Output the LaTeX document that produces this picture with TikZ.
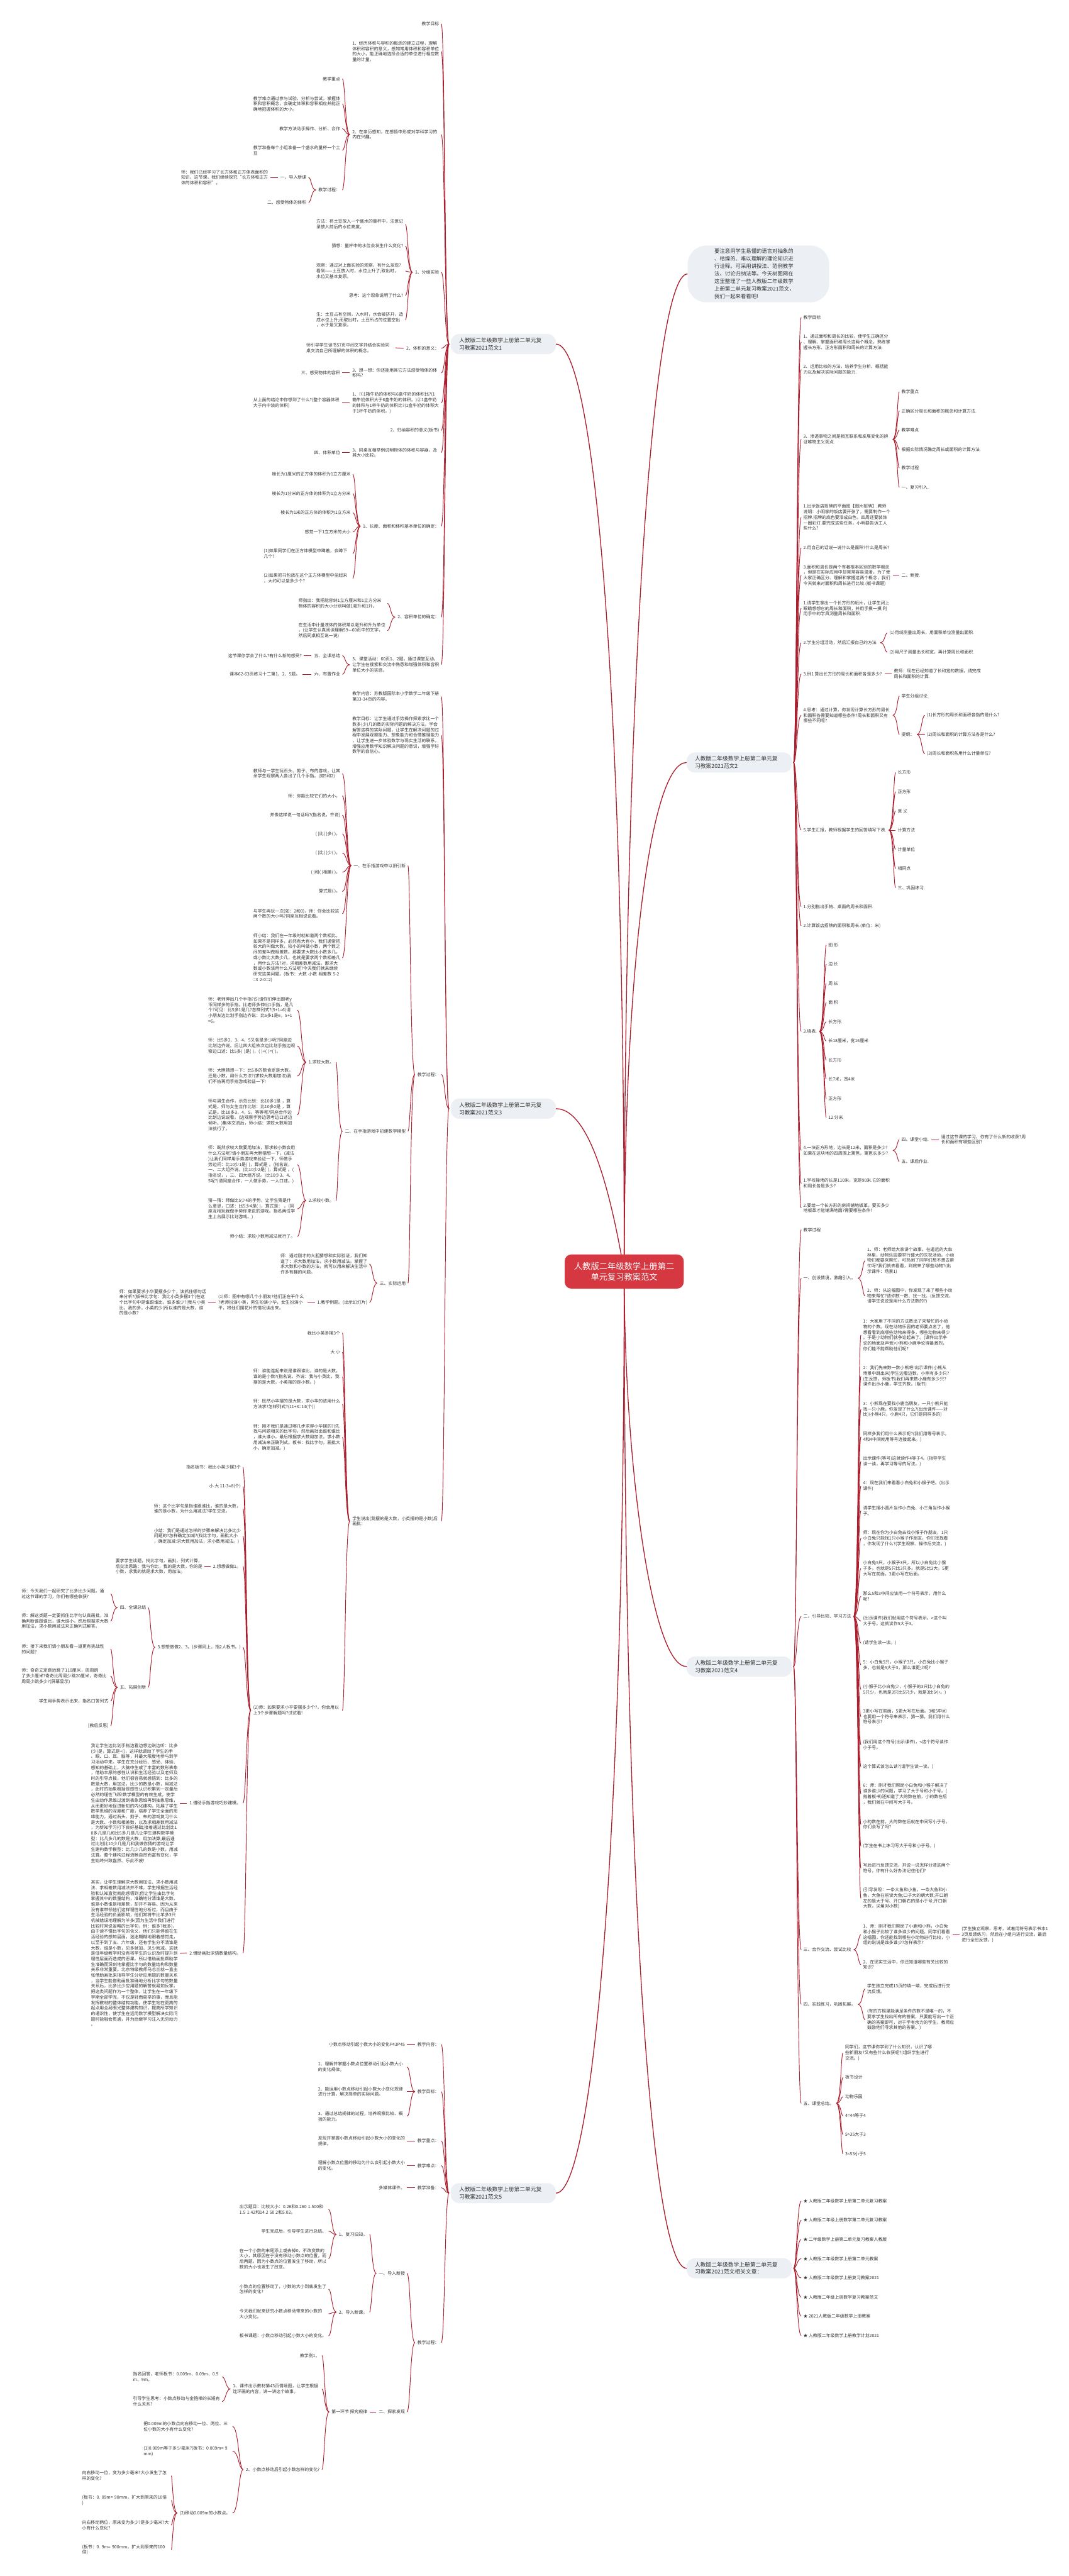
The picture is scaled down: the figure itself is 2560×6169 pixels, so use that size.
\documentclass[tikz,border=0pt]{standalone}
\usepackage{fontspec}
\setmainfont{Noto Sans CJK SC}
\usetikzlibrary{calc}
\definecolor{lc}{RGB}{170,30,45}
\definecolor{rootc}{RGB}{214,56,66}
\definecolor{bf}{RGB}{236,239,243}
\definecolor{tc}{RGB}{51,51,51}
\newcommand\ft{\fontsize{10.4}{13.1}\selectfont}
\newcommand\fbr{\fontsize{13.2}{17.5}\selectfont}
\newcommand\frt{\fontsize{20}{26}\selectfont}
\newcommand\fbb{\fontsize{12.6}{18}\selectfont}
\tikzset{
 t/.style={font=\ft,text=tc,inner sep=0pt,align=left},
 tl/.style={t,anchor=east},
 tlw/.style={tl,text width=208pt},
 tr/.style={t,anchor=west},
 trw/.style={tr,text width=208pt},
 conn/.style={draw=lc,line width=1.4pt},
 mainc/.style={draw=lc,line width=2pt},
 br/.style={fill=bf,rounded corners=20pt,font=\fbr,text=tc,align=left,text width=212pt,inner xsep=20pt,inner ysep=6pt,minimum height=48pt},
}
\newcommand\lk[2]{\draw[conn] let \p1=($(#1.west)+(-6,0)$), \p2=($(#2.east)+(5,0)$) in (\p1) .. controls (\x1-11pt,\y1) and (\x1-11pt,\y2) .. (\p2);}
\newcommand\rk[2]{\draw[conn] let \p1=($(#1.east)+(6,0)$), \p2=($(#2.west)+(-5,0)$) in (\p1) .. controls (\x1+11pt,\y1) and (\x1+11pt,\y2) .. (\p2);}
\newcommand\lkb[2]{\draw[conn] let \p1=($(#1.west)+(-4,0)$), \p2=($(#2.east)+(5,0)$) in (\p1) .. controls (\x1-10pt,\y1) and (\x1-10pt,\y2) .. (\p2);}
\newcommand\rkb[2]{\draw[conn] let \p1=($(#1.east)+(4,0)$), \p2=($(#2.west)+(-5,0)$) in (\p1) .. controls (\x1+8pt,\y1) and (\x1+8pt,\y2) .. (\p2);}
\begin{document}
\begin{tikzpicture}[x=1pt,y=-1pt]
\fill[white] (0,0) rectangle (2560,6169);
\useasboundingbox (0,0) rectangle (2560,6169);
\coordinate (rc) at (1495,3045);

% ===== branch nodes =====
\node[br] (b1) at (1205.5,824) {人教版二年级数学上册第二单元复\\习教案2021范文1};
\node[br] (b3) at (1205.5,2655) {人教版二年级数学上册第二单元复\\习教案2021范文3};
\node[br] (b5) at (1205.5,5252) {人教版二年级数学上册第二单元复\\习教案2021范文5};
\node[br] (b2) at (1770.5,1826) {人教版二年级数学上册第二单元复\\习教案2021范文2};
\node[br] (b4) at (1770.5,3991) {人教版二年级数学上册第二单元复\\习教案2021范文4};
\node[br] (b6) at (1770.5,5432) {人教版二年级数学上册第二单元复\\习教案2021范文相关文章：};
\node[fill=bf,rounded corners=45pt,minimum width=339pt,minimum height=136pt,inner sep=0pt] (bub) at (1816.5,656) {};
\node[font=\fbb,text=tc,align=left,anchor=west,inner sep=0pt] (bubt) at (1711,656) {要注意用学生易懂的语言对抽象的\\、枯燥的、难以理解的理论知识进\\行诠释。可采用讲授法、范例教学\\法、讨论归纳法等。今天树图网在\\这里整理了一些人教版二年级数学\\上册第二单元复习教案2021范文，\\我们一起来看看吧!};

% main curves
\draw[mainc] (b1.east) .. controls (1420,824) and (1495,1600) .. (rc);
\draw[mainc] (b3.east) .. controls (1420,2655) and (1470,2900) .. (rc);
\draw[mainc] (b5.east) .. controls (1420,5252) and (1495,4400) .. (rc);
\draw[mainc] (bub.west) .. controls (1560,656) and (1495,1700) .. (rc);
\draw[mainc] (b2.west) .. controls (1560,1826) and (1495,2300) .. (rc);
\draw[mainc] (b4.west) .. controls (1560,3991) and (1495,3500) .. (rc);
\draw[mainc] (b6.west) .. controls (1560,5432) and (1495,4500) .. (rc);

% ===== 范文1 =====
\node[tl] (n1) at (1052,57) {教学目标};
\node[tlw] (n2) at (1052,123) {1、经历体积与容积的概念的建立过程，理解\\体积和容积的意义，感知常用体积和容积单位\\的大小，能正确地选择合适的单位进行相应数\\量的计量。};
\node[tlw] (n3) at (1052,322) {2、在亲历感知，在感悟中形成对学科学习的\\内在兴趣。};
\node[tl] (n3a) at (815,189) {教学重点};
\node[tlw] (n3b) at (815,249) {教学难点通过参与试验、分析与尝试，掌握体\\积和容积概念，会确定体积和容积相应并能正\\确地把握体积的大小。};
\node[tl] (n3c) at (815,308) {教学方法动手操作、分析、合作};
\node[tlw] (n3d) at (815,360) {教学准备每个小组准备一个盛水的量杯一个土\\豆};
\node[tl] (n3e) at (815,455) {教学过程：};
\node[tl] (n3e1) at (734,425) {一、导入新课};
\node[tlw] (n3e1a) at (642,425) {师：我们已经学习了长方体和正方体表面积的\\知识，这节课，我们继续探究“长方体和正方\\体的体积和容积”。};
\node[tl] (n3e2) at (734,485) {二、感受物体的体积};
\node[tl] (n4) at (1052,652) {1、分组实验};
\node[tlw] (n4a) at (966,537) {方法：将土豆放入一个盛水的量杯中，注意记\\录放入前后的水位高度。};
\node[tl] (n4b) at (966,589) {猜想：量杯中的水位会发生什么变化?};
\node[tlw] (n4c) at (966,649) {观察：通过对上面实验的观察，有什么发现?\\看到——土豆放入时，水位上升了;取出时，\\水位又基本复原。};
\node[tl] (n4d) at (966,708) {思考：这个现象说明了什么?};
\node[tlw] (n4e) at (966,766) {生：土豆占有空间，入水时，水会被挤开，造\\成水位上升;而取出时，土豆所占的位置空出\\，水于是又复原。};
\node[tl] (n5) at (1052,834) {2、体积的意义：};
\node[tlw] (n5a) at (942,833) {师引导学生读书57页中间文字并结合实验同\\桌交流自己所理解的体积的概念。};
\node[tlw] (n6) at (1052,893) {3、想一想：你还能用其它方法感受物体的体\\积吗?};
\node[tl] (n6a) at (815,893) {三、感受物体的容积};
\node[tlw] (n7) at (1052,965) {1、①1箱牛奶的体积与6盒牛奶的体积比?(1\\箱牛奶体积大于6盒牛奶的体积。)②1盒牛奶\\的体积与1杯牛奶的体积比?(1盒牛奶的体积大\\于1杯牛奶的体积。)};
\node[tlw] (n7a) at (815,965) {从上面的结论中你想到了什么?(整个容器体积\\大于内中装的体积)};
\node[tl] (n8) at (1052,1031) {2、归纳容积的意义(板书)};
\node[tlw] (n9) at (1052,1084) {3、同桌互相举例说明物体的体积与容器，及\\其大小比较。};
\node[tl] (n9a) at (815,1084) {四、体积单位};
\node[tl] (n10) at (1052,1260) {1、长度、面积和体积基本单位的确定：};
\node[tl] (n10a) at (840,1136) {棱长为1厘米的正方体的体积为1立方厘米};
\node[tl] (n10b) at (840,1182) {棱长为1分米的正方体的体积为1立方分米};
\node[tl] (n10c) at (840,1228) {棱长为1米的正方体的体积为1立方米};
\node[tl] (n10d) at (840,1274) {感觉一下1立方米的大小};
\node[tlw] (n10e) at (840,1326) {(1)如果同学们在正方体模型中蹲着，会蹲下\\几个?};
\node[tlw] (n10f) at (840,1385) {(2)如果把书包放在这个正方体模型中垒起来\\，大约可以垒多少个?};
\node[tl] (n11) at (1052,1478) {2、容积单位的确定：};
\node[tlw] (n11a) at (923,1445) {师指出：我把能容纳1立方厘米和1立方分米\\物体的容积的大小分别叫做1毫升和1升。};
\node[tlw] (n11b) at (923,1510) {在生活中计量液体的体积常以毫升和升为单位\\，(让学生认真阅读理解59—60页中的文字，\\然后同桌相互说一说)};
\node[tlw] (n12) at (1052,1592) {3、课堂活动：60页1、2题。通过课堂互动，\\让学生在搜索和交流中熟悉和增强体积和容积\\单位大小的实感。};
\node[tl] (n12a) at (815,1570) {五、全课总结};
\node[tl] (n12a1) at (723,1570) {这节课你学会了什么?有什么新的感受?};
\node[tl] (n12b) at (815,1615) {六、布置作业};
\node[tl] (n12b1) at (719,1615) {课本62-63页练习十二第1、2、5题。};

\foreach \c in {n1,n2,n3,n4,n5,n6,n7,n8,n9,n10,n11,n12} {\lkb{b1}{\c}}
\foreach \c in {n3a,n3b,n3c,n3d,n3e} {\lk{n3}{\c}}
\lk{n3e}{n3e1} \lk{n3e}{n3e2} \lk{n3e1}{n3e1a}
\foreach \c in {n4a,n4b,n4c,n4d,n4e} {\lk{n4}{\c}}
\lk{n5}{n5a} \lk{n6}{n6a} \lk{n7}{n7a} \lk{n9}{n9a}
\foreach \c in {n10a,n10b,n10c,n10d,n10e,n10f} {\lk{n10}{\c}}
\lk{n11}{n11a} \lk{n11}{n11b}
\lk{n12}{n12a} \lk{n12}{n12b} \lk{n12a}{n12a1} \lk{n12b}{n12b1}

% ===== 范文3 =====
\node[tlw] (m1) at (1052,1668) {教学内容：苏教版国际本小学数学二年级下册\\第33-34页的内容。};
\node[tlw] (m2) at (1052,1761) {教学目标：让学生通过手势操作探索求比一个\\数多(少)几的数的实际问题的解决方法，学会\\解答这样的实际问题，让学生在解决问题的过\\程中发展观察能力、想象能力和合情推理能力\\，让学生进一步体验数学与现实生活的联系，\\增强应用数学知识解决问题的意识，增强学好\\数学的自信心。};
\node[tl] (m3) at (1052,2573) {教学过程：};
\node[tl] (m3a) at (972,2073) {一、在手指游戏中以旧引新};
\node[tlw] (m3a1) at (815,1853) {教师与一学生玩石头、剪子、布的游戏，让其\\余学生观察两人各出了几个手指。(如5和2)};
\node[tl] (m3a2) at (815,1906) {师：你能比较它们的大小，};
\node[tl] (m3a3) at (815,1952) {并像这样说一句话吗?(指名说，齐说)};
\node[tl] (m3a4) at (815,1997) {( )比( )多( )，};
\node[tl] (m3a5) at (815,2043) {( )比( )少( )，};
\node[tl] (m3a6) at (815,2089) {( )和( )相差( )，};
\node[tl] (m3a7) at (815,2135) {算式是( )。};
\node[tlw] (m3a8) at (815,2188) {与学生再玩一次(如：2和0)，师：你会比较这\\两个数的大小吗?同座互相说说看。};
\node[tlw] (m3a9) at (815,2294) {师小结：我们在一年级时就知道两个数相比，\\如果不是同样多，必然有大有小，我们通常把\\较大的叫做大数，较小的叫做小数，两个数之\\间的差叫做相差数。那要求大数比小数多几，\\或小数比大数少几，也就是要求两个数相差几\\，用什么方法?对，求相差数用减法。那求大\\数或小数该用什么方法呢?今天我们就来继续\\研究这类问题。(板书：大数~小数~相差数~5-2\\=3~2-0=2)};
\node[tl] (m3b) at (972,2709) {二、在手指游戏中初建数学模型};
\node[tl] (m3b1) at (800,2544) {1.求较大数。};
\node[tlw] (m3b1a) at (707,2419) {师：老师伸出几个手指?(5)请你们伸出跟老y\\币同样多的手指。比老师多伸出1手指，是几\\个?可见：比5多1是几?怎样列式?(5+1=6)请\\小朋友边比划手指边齐说：比5多1是6，5+1\\=6。};
\node[tlw] (m3b1b) at (707,2505) {师：比5多2、3、4、5又各是多少呢?同座边\\比划边齐说。后让四大组依次边比划手指边观\\察边口述：比5多(~)是(~)，(~)+(~)=(~)。};
\node[tlw] (m3b1c) at (707,2577) {师：大胆猜想一下：比5多的数肯定是大数，\\还是小数，用什么方法?(求较大数用加法)我\\们不妨再用手指游戏验证一下!};
\node[tlw] (m3b1d) at (707,2670) {师与男生合作，示范比划：比10多1是~，算\\式是。师与女生合作比划：比10多2是~，算\\式是。比10多3，4，5，等等呢?同座合作边\\比划边说说看。(边观察手势边思考边口述边\\倾听。)集体交流后，师小结：求较大数用加\\法就行了。};
\node[tl] (m3b2) at (800,2875) {2.求较小数。};
\node[tlw] (m3b2a) at (707,2789) {师：既然求较大数要用加法，那求较小数会用\\什么方法呢?请小朋友再大胆猜想一下。(减法\\)让我们同样用手势游戏来验证一下，师做手\\势边问：比10少1是(~)，算式是~。(指名说，\\一、二大组齐说。)比10少2是(~)，算式是~。(\\指名说，，三、四大组齐说。)比10少3、4、\\5呢?(请同座合作，一人做手势，一人口述。)};
\node[tlw] (m3b2b) at (707,2895) {猜一猜：师做比5少4的手势，让学生猜是什\\么意思，口述：比5少4是(~)，算式是：~。(同\\座互相玩我做手势你来说的游戏。指名两位学\\生上台展示比划游戏。)};
\node[tl] (m3b2c) at (707,2961) {师小结：求较小数用减法就行了。};
\node[tl] (m3c) at (972,3073) {三、实际运用};
\node[tlw] (m3c1) at (880,3027) {师：通过刚才的大胆猜想和实际验证，我们知\\道了：求大数用加法，求小数用减法。掌握了\\求大数和小数的方法，就可以用来解决生活中\\许多有趣的问题。};
\node[tl] (m3c2) at (880,3119) {1.教学例题。(出示幻灯片)};
\node[tlw] (m3c2a) at (731,3119) {(1)师：图中有哪几个小朋友?他们正在干什么\\?老师扮演小英，男生扮演小华，女生扮演小\\平，将他们摆花片的情况读出来。};
\node[tlw] (m3c2a1) at (494,3119) {师：如果要求小华要摆多少个，该抓住哪句话\\来分析?(板书比字句：我比小英多摆3个)在这\\个比字句中是谁跟谁比，谁多谁少?(我与小英\\比，我的多，小英的少)所以谁的是大数，谁\\的是小数?};
\node[tlw] (m4) at (1052,3643) {学生说出(我摆的是大数，小英摆的是小数)后\\画批：};
\node[tl] (m4a) at (815,3192) {我比小英多摆3个};
\node[tl] (m4b) at (815,3238) {大 小};
\node[tlw] (m4c) at (815,3297) {师：谁能连起来说是谁跟谁比，谁的是大数，\\谁的是小数?(指名说，齐说：我与小英比，我\\摆的是大数，小英摆的是小数。)};
\node[tlw] (m4d) at (815,3363) {师：既然小华摆的是大数，求小华的该用什么\\方法求?怎样列式?(11+3=14(个))};
\node[tlw] (m4e) at (815,3442) {师：刚才我们是通过哪几步求得小华摆的?(先\\找与问题相关的比字句，然后画批出谁和谁比\\，谁大谁小，最后根据求大数用加法，求小数\\用减法来正确列式。板书：找比字句，画批大\\小，确定加减。)};
\node[tlw] (m4f) at (815,4096) {(2)师：如果要求小平要摆多少个?，你会用以\\上3个步骤解题吗?试试看!};
\node[tl] (m4f1) at (577,3514) {指名板书：我比小英少摆3个};
\node[tl] (m4f2) at (577,3560) {小 大 11-3=8(个)};
\node[tlw] (m4f3) at (577,3613) {师：这个比字句是指谁跟谁比，谁的是大数，\\谁的是小数，为什么用减法?学生交流。};
\node[tlw] (m4f4) at (577,3679) {小结：我们是通过怎样的步骤来解决比多比少\\问题的?怎样确定加减?(找比字句，画批大小\\，确定加减:求大数用加法，求小数用减法。)};
\node[tl] (m4f5) at (577,3751) {2.想想做做1。};
\node[tlw] (m4f5a) at (485,3751) {要求学生读题，找比字句，画批，列式计算，\\后交流思路：我与你比，我的是大数，你的是\\小数，求我的就是求大数，用加法。};
\node[tl] (m4f6) at (577,3945) {3.想想做做2、3。(步骤同上，指2人板书。)};
\node[tl] (m4f6a) at (350,3850) {四、全课总结};
\node[tlw] (m4f6a1) at (260,3817) {师：今天我们一起研究了比多比少问题。通\\过这节课的学习，你们有哪些收获?};
\node[tlw] (m4f6a2) at (260,3882) {师：解这类题一定要抓住比字句认真画批，准\\确判断谁跟谁比，谁大谁小，然后根据求大数\\用加法，求小数用减法来正确列式解答。};
\node[tl] (m4f6b) at (350,4041) {五、拓展创新};
\node[tlw] (m4f6b1) at (260,3949) {师：接下来我们请小朋友看一道更有挑战性\\的问题?};
\node[tlw] (m4f6b2) at (260,4014) {师：奇奇立定跳远跳了110厘米，周周跳\\了多少厘米?奇奇比周周少跳20厘米，奇奇比\\周周少跳多少?(屏幕显示)};
\node[tl] (m4f6b3) at (260,4074) {学生用手势表示出来，指名口答列式};
\node[tl] (m4f6b4) at (260,4133) {[教后反思]};
\node[tl] (m4f7) at (577,4318) {1.借助手指游戏巧妙建模。};
\node[tlw] (m4f7a) at (426,4318) {我让学生边比划手指边看边想边说边听：比多\\(少)是，算式是+()，这样就调动了学生的手\\、眼、口、耳、脑等，并最大限度地参与到学\\习活动中来。学生在充分经历、感受、体验、\\感知的基础上，大脑中生成了丰富的数形表象\\，借助丰厚的感性认识和生活经验以及老师及\\时的引导点拨，他们很容易就感悟到：比多的\\数是大数，用加法，比少的数是小数，用减法\\，此时的抽象概括是感性认识积累到一定量后\\必然的理性飞跃!数学模型的有效生成，使学\\生由动作思维过渡到表象思维再到抽象思维，\\从而更好地促进新知的内化建构，拓展了学生\\数学思维的深度和广度，培养了学生全面的思\\维能力。通过石头、剪子、布的游戏复习什么\\是大数、小数和相差数，以及求相差数用减法\\，为新知学习打下良好基础;接着通过比划比1\\0多几是几和比5多几是几让学生建构数学模\\型：比几多几的数是大数，用加法算;最后通\\过比划比10少几是几和我做你猜的游戏让学\\生建构数学模型：比几少几的数是小数，用减\\法算。整个建构过程流畅自然而富有变化，学\\生始终兴致盎然、乐此不疲!};
\node[tl] (m4f8) at (577,4677) {2.借助画批深悟数量结构。};
\node[tlw] (m4f8a) at (426,4678) {其实，让学生理解求大数用加法、求小数用减\\法、求相差数用减法并不难，学生根据生活经\\验和认知直觉就能感悟到;但让学生由比字句\\掌握其中的数量结构，准确地分清谁是大数、\\谁是小数谁是相差数，却并不容易。因为从来\\没有谁带领他们这样理性地分析过，而且由于\\生活经验的负面影响，他们常将牛比羊多3只\\机械错误地理解为羊多(因为生活中我们进行\\比较时常说省略的比字句，例：谁多?我多)，\\由于读不懂比字句的含义，他们只能停留在生\\活经验的感知层面，迷迷糊糊地跟着感觉走，\\以至于到了五、六年级，还有学生分不清谁是\\大数，谁是小数，见多就加，见少就减。这就\\是低年级教学时没有将学生的认识及时提升到\\理性层面而造成的恶果。所以借助画批帮助学\\生准确而深刻地掌握比字句的数量结构和数量\\关系非常重要。北京特级教师马芯兰就一直主\\张借助画批来指导学生分析应用题的数量关系\\，当学生能借助画批准确地分析比字句的数量\\关系后，比多比少应用题的解答就易如反掌。\\把这类问题作为一个整体，让学生在一年级下\\学期全部学完，不仅是轻而易举的事，而且能\\发挥教材的整体结构功能，使学生站在更高的\\起点用全局眼光整体建构知识，提高所学知识\\的通识性，使学生在运用数学模型解决实际问\\题时能融会贯通，并为后继学习注入无穷动力\\。};

\foreach \c in {m1,m2,m3,m4} {\lkb{b3}{\c}}
\lk{m3}{m3a} \lk{m3}{m3b} \lk{m3}{m3c}
\foreach \c in {m3a1,m3a2,m3a3,m3a4,m3a5,m3a6,m3a7,m3a8,m3a9} {\lk{m3a}{\c}}
\lk{m3b}{m3b1} \lk{m3b}{m3b2}
\foreach \c in {m3b1a,m3b1b,m3b1c,m3b1d} {\lk{m3b1}{\c}}
\foreach \c in {m3b2a,m3b2b,m3b2c} {\lk{m3b2}{\c}}
\lk{m3c}{m3c1} \lk{m3c}{m3c2} \lk{m3c2}{m3c2a} \lk{m3c2a}{m3c2a1}
\foreach \c in {m4a,m4b,m4c,m4d,m4e,m4f} {\lk{m4}{\c}}
\foreach \c in {m4f1,m4f2,m4f3,m4f4,m4f5,m4f6,m4f7,m4f8} {\lk{m4f}{\c}}
\lk{m4f5}{m4f5a} \lk{m4f6}{m4f6a} \lk{m4f6}{m4f6b}
\lk{m4f6a}{m4f6a1} \lk{m4f6a}{m4f6a2}
\foreach \c in {m4f6b1,m4f6b2,m4f6b3,m4f6b4} {\lk{m4f6b}{\c}}
\lk{m4f7}{m4f7a} \lk{m4f8}{m4f8a}

% ===== 范文5 =====
\node[tl] (p1) at (1052,4896) {教学内容：};
\node[tl] (p1a) at (970,4896) {小数点移动引起小数大小的变化P43P45};
\node[tl] (p2) at (1052,5009) {教学目标：};
\node[tlw] (p2a) at (970,4950) {1、理解并掌握小数点位置移动引起小数大小\\的变化规律。};
\node[tlw] (p2b) at (970,5009) {2、能运用小数点移动引起小数大小变化规律\\进行计算，解决简单的实际问题。};
\node[tlw] (p2c) at (970,5068) {3、通过总结规律的过程，培养观察比较、概\\括的能力。};
\node[tl] (p3) at (1052,5127) {教学重点：};
\node[tlw] (p3a) at (970,5127) {发现并掌握小数点移动引起小数大小的变化的\\规律。};
\node[tl] (p4) at (1052,5186) {教学难点：};
\node[tlw] (p4a) at (970,5186) {理解小数点位置的移动为什么会引起小数大小\\的变化。};
\node[tl] (p5) at (1052,5239) {教学准备：};
\node[tl] (p5a) at (970,5239) {多媒体课件。};
\node[tl] (p6) at (1052,5610) {教学过程：};
\node[tl] (p6a) at (970,5444) {一、导入新授};
\node[tl] (p6a1) at (880,5351) {1、复习旧知。};
\node[tlw] (p6a1a) at (782,5291) {出示题目：比较大小：0.26和0.260~1.500和\\1.5~1.42和14.2~50.2和5.02。};
\node[tl] (p6a1b) at (782,5343) {学生完成后，引导学生进行总结。};
\node[tlw] (p6a1c) at (782,5409) {在一个小数的末尾添上或去掉0，不改变数的\\大小，其原因在于没有移动小数点的位置，而\\后两题，因为小数点的位置发生了移动，所以\\数的大小也发生了改变。};
\node[tl] (p6a2) at (880,5537) {2、导入新课。};
\node[tlw] (p6a2a) at (782,5482) {小数点的位置移动了，小数的大小到底发生了\\怎样的变化?};
\node[tlw] (p6a2b) at (782,5541) {今天我们就来研究小数点移动带来的小数的\\大小变化。};
\node[tl] (p6a2c) at (782,5594) {板书课题：小数点移动引起小数大小的变化。};
\node[tl] (p6b) at (970,5776) {二、探索发现};
\node[tl] (p6b1) at (880,5776) {第一环节 探究规律};
\node[tl] (p6b1a) at (766,5641) {教学例1。};
\node[tlw] (p6b1b) at (766,5721) {1、课件出示教材第43页情境图，让学生根据\\连环画的内容，讲一讲这个故事。};
\node[tlw] (p6b1b1) at (527,5692) {指名回答，老师板书：0.009m、0.09m、0.9\\m、9m。};
\node[tlw] (p6b1b2) at (527,5751) {引导学生思考：小数点移动与金箍棒的长短有\\什么关系?};
\node[tl] (p6b1c) at (766,5914) {2、小数点移动后引起小数怎样的变化?};
\node[tlw] (p6b1c1) at (552,5811) {把0.009m的小数点向右移动一位、两位、三\\位小数的大小有什么变化?};
\node[tlw] (p6b1c2) at (552,5870) {(1)0.009m等于多少毫米?(板书：0.009m=~9\\mm)};
\node[tl] (p6b1c3) at (552,6018) {(2)移动0.009m的小数点。};
\node[tlw] (p6b1c3a) at (405,5929) {向右移动一位，变为多少毫米?大小发生了怎\\样的变化?};
\node[tlw] (p6b1c3b) at (405,5988) {(板书：0.~09m=~90mm，扩大到原来的10倍\\)};
\node[tlw] (p6b1c3c) at (405,6047) {向右移动两位，原来变为多少?是多少毫米?大\\小有什么变化?};
\node[tlw] (p6b1c3d) at (405,6106) {(板书：0.~9m=~900mm，扩大到原来的100\\倍)};

\foreach \c in {p1,p2,p3,p4,p5,p6} {\lkb{b5}{\c}}
\lk{p1}{p1a} \lk{p2}{p2a} \lk{p2}{p2b} \lk{p2}{p2c} \lk{p3}{p3a} \lk{p4}{p4a} \lk{p5}{p5a}
\lk{p6}{p6a} \lk{p6}{p6b} \lk{p6a}{p6a1} \lk{p6a}{p6a2}
\lk{p6a1}{p6a1a} \lk{p6a1}{p6a1b} \lk{p6a1}{p6a1c}
\lk{p6a2}{p6a2a} \lk{p6a2}{p6a2b} \lk{p6a2}{p6a2c}
\lk{p6b}{p6b1} \lk{p6b1}{p6b1a} \lk{p6b1}{p6b1b} \lk{p6b1}{p6b1c}
\lk{p6b1b}{p6b1b1} \lk{p6b1b}{p6b1b2}
\lk{p6b1c}{p6b1c1} \lk{p6b1c}{p6b1c2} \lk{p6b1c}{p6b1c3}
\foreach \c in {p6b1c3a,p6b1c3b,p6b1c3c,p6b1c3d} {\lk{p6b1c3}{\c}}

% ===== 范文2 =====
\node[tr] (q1) at (1924,760) {教学目标};
\node[trw] (q2) at (1924,819) {1、通过面积和周长的比较，使学生正确区分\\、理解、掌握面积和周长这两个概念，熟练掌\\握长方形、正方形面积和周长的计算方法.};
\node[trw] (q3) at (1924,885) {2、运用比较的方法，培养学生分析、概括能\\力以及解决实际问题的能力.};
\node[trw] (q4) at (1924,1052) {3、渗透事物之间是相互联系和发展变化的辨\\证唯物主义观点.};
\node[tr] (q4a) at (2159,938) {教学重点};
\node[tr] (q4b) at (2159,984) {正确区分周长和面积的概念和计算方法.};
\node[tr] (q4c) at (2159,1030) {教学难点};
\node[tr] (q4d) at (2159,1076) {根据实际情况确定周长或面积的计算方法.};
\node[tr] (q4e) at (2159,1121) {教学过程};
\node[tr] (q4f) at (2159,1167) {一、复习引入.};
\node[trw] (q5) at (1924,1239) {1.出示饭店招牌的平面图【图片招牌】.教师\\说明：小明家的饭店要开张了，需要制作一个\\招牌.招牌的底色要漆成白色，四周还要装饰\\一圈彩灯.要完成这些任务，小明要告诉工人\\些什么?};
\node[tr] (q6) at (1924,1312) {2.用自己的话说一说什么是面积?什么是周长?};
\node[trw] (q7) at (1924,1378) {3.面积和周长是两个有着根本区别的数学概念\\，但是在实际应用中却常常容易混淆，为了使\\大家正确区分、理解和掌握这两个概念，我们\\今天就来对面积和周长进行比较.(板书课题)};
\node[tr] (q7a) at (2159,1378) {二、新授.};
\node[trw] (q8) at (1924,1457) {1.请学生拿出一个长方形的纸片，让学生闭上\\眼睛想想它的周长和面积，并用手摸一摸.利\\用手中的学具测量周长和面积.};
\node[tr] (q9) at (1924,1539) {2.学生分组活动，然后汇报自己的方法.};
\node[tr] (q9a) at (2130,1516) {(1)用线测量出周长，用面积单位测量出面积.};
\node[tr] (q9b) at (2130,1562) {(2)用尺子测量出长和宽，再计算周长和面积.};
\node[tr] (q10) at (1924,1614) {3.例1 算出长方形的周长和面积各是多少?};
\node[trw] (q10a) at (2141,1614) {教师：现在已经知道了长和宽的数据，请完成\\周长和面积的计算.};
\node[trw] (q11) at (1924,1713) {4.思考：通过计算，你发现计算长方形的周长\\和面积各需要知道哪些条件?周长和面积又有\\哪些不同呢?};
\node[tr] (q11a) at (2159,1667) {学生分组讨论.};
\node[tr] (q11b) at (2159,1759) {提纲：};
\node[tr] (q11b1) at (2220,1713) {(1)长方形的周长和面积各指的是什么?};
\node[tr] (q11b2) at (2220,1759) {(2)周长和面积的计算方法各是什么?};
\node[tr] (q11b3) at (2220,1805) {(3)周长和面积各用什么计量单位?};
\node[tr] (q12) at (1924,1988) {5.学生汇报，教师根据学生的回答填写下表.};
\node[tr] (q12a) at (2150,1850) {长方形};
\node[tr] (q12b) at (2150,1896) {正方形};
\node[tr] (q12c) at (2150,1942) {意 义};
\node[tr] (q12d) at (2150,1988) {计算方法};
\node[tr] (q12e) at (2150,2034) {计量单位};
\node[tr] (q12f) at (2150,2080) {相同点};
\node[tr] (q12g) at (2150,2126) {三、巩固练习.};
\node[tr] (q13) at (1924,2171) {1.分别指出手帕、桌面的周长和面积.};
\node[tr] (q14) at (1924,2217) {2.计算饭店招牌的面积和周长.(单位：米)};
\node[tr] (q15) at (1924,2470) {3.填表.};
\node[tr] (q15a) at (1984,2263) {图 形};
\node[tr] (q15b) at (1984,2309) {边 长};
\node[tr] (q15c) at (1984,2355) {周 长};
\node[tr] (q15d) at (1984,2401) {面 积};
\node[tr] (q15e) at (1984,2447) {长方形};
\node[tr] (q15f) at (1984,2493) {长18厘米，宽16厘米};
\node[tr] (q15g) at (1984,2539) {长方形};
\node[tr] (q15h) at (1984,2584) {长7米，宽4米};
\node[tr] (q15i) at (1984,2631) {正方形};
\node[tr] (q15j) at (1984,2676) {12 分米};
\node[trw] (q16) at (1924,2755) {4.一块正方形地，边长是12米，面积是多少?\\如果在这块地的四周围上篱笆，篱笆长多少?};
\node[tr] (q16a) at (2159,2729) {四、课堂小结.};
\node[trw] (q16a1) at (2254,2729) {通过这节课的学习，你有了什么新的收获?周\\长和面积有哪些区别?};
\node[tr] (q16b) at (2159,2782) {五、课后作业.};
\node[trw] (q17) at (1924,2834) {1.学校操场的长是110米，宽是90米.它的面积\\和周长各是多少?};
\node[trw] (q18) at (1924,2893) {2.要给一个长方形的房间铺地板革，要买多少\\地板革才能铺满地面?需要哪些条件?};

\foreach \c in {q1,q2,q3,q4,q5,q6,q7,q8,q9,q10,q11,q12,q13,q14,q15,q16,q17,q18} {\rkb{b2}{\c}}
\foreach \c in {q4a,q4b,q4c,q4d,q4e,q4f} {\rk{q4}{\c}}
\rk{q7}{q7a} \rk{q9}{q9a} \rk{q9}{q9b} \rk{q10}{q10a}
\rk{q11}{q11a} \rk{q11}{q11b}
\foreach \c in {q11b1,q11b2,q11b3} {\rk{q11b}{\c}}
\foreach \c in {q12a,q12b,q12c,q12d,q12e,q12f,q12g} {\rk{q12}{\c}}
\foreach \c in {q15a,q15b,q15c,q15d,q15e,q15f,q15g,q15h,q15i,q15j} {\rk{q15}{\c}}
\rk{q16}{q16a} \rk{q16}{q16b} \rk{q16a}{q16a1}

% ===== 范文4 =====
\node[tr] (s1) at (1924,2945) {教学过程};
\node[tr] (s2) at (1924,3061) {一、创设情境，激趣引入。};
\node[trw] (s2a) at (2077,3019) {1、师：老师给大家讲个故事。在遥远的大森\\林里，动物乐园要举行盛大的庆祝活动。小动\\物们都要来帮忙，可热闹了同学们想不想去帮\\忙呀?我们就去看看，到底来了哪些动物?(出\\示课件：场景1)};
\node[trw] (s2b) at (2077,3104) {2、师：从这幅图中，你发现了来了哪些小动\\物来帮忙?请你数一数、找一找。(反馈交流，\\请学生说说是用什么方法数的?)};
\node[tr] (s3) at (1924,3871) {二、引导比较、学习方法};
\node[trw] (s3a) at (2067,3197) {1：大家用了不同的方法数出了来帮忙的小动\\物的个数。现在动物乐园的老师要点名了，他\\想看看到底哪些动物来得多，哪些动物来得少\\。于是小动物们就争论起来了。(课件出示争\\论的场面及声音)小熊和小鹿争论得最激烈，\\你们能不能帮助他们呢?};
\node[trw] (s3b) at (2067,3296) {2：我们先来数一数小熊吧!出示课件(小熊从\\场景中跳出来)学生边看边数。小熊有多少只?\\(生反馈，师板书)我们再来数小鹿有多少只?\\课件出示小鹿，学生齐数。(板书)};
\node[trw] (s3c) at (2067,3375) {3：小熊现在要找小鹿当朋友，一只小熊只能\\找一只小鹿，你发现了什么?(出示课件——对\\比)(小熊4只，小鹿4只，它们是同样多的)};
\node[trw] (s3d) at (2067,3441) {同样多我们用什么表示呢?(我们用等号表示。\\4和4中间就用等号连接起来。)};
\node[trw] (s3e) at (2067,3500) {出示课件(等号)这就读作4等于4。(指导学生\\读一读，再学习等号的写法。)};
\node[trw] (s3f) at (2067,3559) {4：现在我们来看看小白兔和小猴子吧。(出示\\课件)};
\node[trw] (s3g) at (2067,3618) {请学生摆小圆片当作小白兔、小三角当作小猴\\子。};
\node[trw] (s3h) at (2067,3684) {师：现在你为小白兔去找小猴子作朋友，1只\\小白兔只能找1只小猴子作朋友，你们找找看\\，你发现了什么?(学生观察、操作后交流。)};
\node[trw] (s3i) at (2067,3756) {小白兔5只，小猴子3只，所以小白兔比小猴\\子多，也就是5只比3只多。就是5比3大，5更\\大写在前面，3更小写在后面。};
\node[trw] (s3j) at (2067,3823) {那么5和3中间应该用一个符号表示，用什么\\呢?};
\node[trw] (s3k) at (2067,3882) {(出示课件)我们就用这个符号表示。>这个叫\\大于号。这就读作5大于3。};
\node[tr] (s3l) at (2067,3935) {(请学生读一读。)};
\node[trw] (s3m) at (2067,3987) {5：小白兔5只，小猴子3只，小白兔比小猴子\\多，也就是5大于3，那么谁更少呢?};
\node[trw] (s3n) at (2067,4046) {(小猴子比小白兔少，小猴子的3只比小白兔的\\5只少，也就是3只比5只少，就是3比5小。)};
\node[trw] (s3o) at (2067,4111) {3更小写在前面，5更大写在后面。3和5中间\\也要用一个符号来表示，猜一猜，我们用什么\\符号表示?};
\node[trw] (s3p) at (2067,4178) {(我们用这个符号(出示课件)，<这个符号读作\\小于号。};
\node[tr] (s3q) at (2067,4231) {这个算式该怎么读?(请学生读一读。)};
\node[trw] (s3r) at (2067,4296) {6：师：刚才我们帮助小白兔和小猴子解决了\\谁多谁少的问题，学习了大于号和小于号。(\\指着板书)还知道了大的数在前，小的数在后\\，我们就在中间写大于号。};
\node[trw] (s3s) at (2067,4369) {小的数在前，大的数在后就在中间写小于号。\\你们会写了吗?};
\node[tr] (s3t) at (2067,4421) {(学生在书上练习写大于号和小于号。)};
\node[trw] (s3u) at (2067,4474) {写后进行反馈交流，并说一说怎样分清这两个\\符号，你有什么好办法记住他们?};
\node[trw] (s3v) at (2067,4546) {(引导发现：一条大鱼和小鱼，一条大鱼和小\\鱼，大鱼在前读大鱼;口子大的朝大数;开口朝\\左的是大于号、开口朝右的是小于号;开口朝\\大数，尖角对小数)};
\node[tr] (s4) at (1924,4669) {三、合作交流、尝试比较};
\node[trw] (s4a) at (2067,4633) {1、师：刚才我们帮助了小鹿和小熊，小白兔\\和小猴子比较了谁多谁少的问题，同学们看看\\这幅图，你还能找到哪些小动物进行比较，小\\组的说说是谁多谁少?怎样表示?};
\node[trw] (s4a1) at (2303,4633) {(学生独立观察、思考，试着用符号表示书本1\\3页反馈练习，然后在小组内进行交流，最后\\进行全班反馈。)};
\node[trw] (s4b) at (2067,4705) {2、在现实生活中，你还知道哪些有关比较的\\知识?};
\node[tr] (s5) at (1924,4800) {四、实践练习，巩固拓展。};
\node[trw] (s5a) at (2077,4763) {学生独立完成13页的填一填，完成后进行交\\流反馈。};
\node[trw] (s5b) at (2077,4837) {(有的方框里能满足条件的数不是唯一的，不\\要求学生找出所有的答案，只要能写出一个正\\确的答案即可，对于学有余力的学生，教师应\\鼓励他们寻求其他的答案。)};
\node[tr] (s6) at (1924,5037) {五、课堂总结。};
\node[trw] (s6a) at (2024,4916) {同学们，这节课你学到了什么知识，认识了哪\\些新朋友?又有些什么收获呢?(组织学生进行\\交流。)};
\node[tr] (s6b) at (2024,4975) {板书设计};
\node[tr] (s6c) at (2024,5021) {动物乐园};
\node[tr] (s6d) at (2024,5067) {4=44等于4};
\node[tr] (s6e) at (2024,5112) {5>35大于3};
\node[tr] (s6f) at (2024,5158) {3<53小于5};

\foreach \c in {s1,s2,s3,s4,s5,s6} {\rkb{b4}{\c}}
\rk{s2}{s2a} \rk{s2}{s2b}
\foreach \c in {s3a,s3b,s3c,s3d,s3e,s3f,s3g,s3h,s3i,s3j,s3k,s3l,s3m,s3n,s3o,s3p,s3q,s3r,s3s,s3t,s3u,s3v} {\rk{s3}{\c}}
\rk{s4}{s4a} \rk{s4}{s4b} \rk{s4a}{s4a1}
\rk{s5}{s5a} \rk{s5}{s5b}
\foreach \c in {s6a,s6b,s6c,s6d,s6e,s6f} {\rk{s6}{\c}}

% ===== 相关文章 =====
\node[tr] (g1) at (1924,5271) {★ 人教版二年级数学上册第二单元复习教案};
\node[tr] (g2) at (1924,5317) {★ 人教版二年级上册数学第二单元复习教案};
\node[tr] (g3) at (1924,5363) {★ 二年级数学上册第二单元复习教案人教版};
\node[tr] (g4) at (1924,5409) {★ 人教版二年级数学上册第二单元教案};
\node[tr] (g5) at (1924,5455) {★ 人教版二年级数学上册复习教案2021};
\node[tr] (g6) at (1924,5501) {★ 人教版二年级上册数学复习教案范文};
\node[tr] (g7) at (1924,5547) {★ 2021人教版二年级数学上册教案};
\node[tr] (g8) at (1924,5593) {★ 人教版二年级数学上册教学计划2021};
\foreach \c in {g1,g2,g3,g4,g5,g6,g7,g8} {\rkb{b6}{\c}}

% root on top
\node[fill=rootc,rounded corners=16pt,text=white,font=\frt,align=center,minimum width=285pt,minimum height=82pt,inner sep=0pt] (root) at (rc) {人教版二年级数学上册第二\\单元复习教案范文};
\end{tikzpicture}
\end{document}
